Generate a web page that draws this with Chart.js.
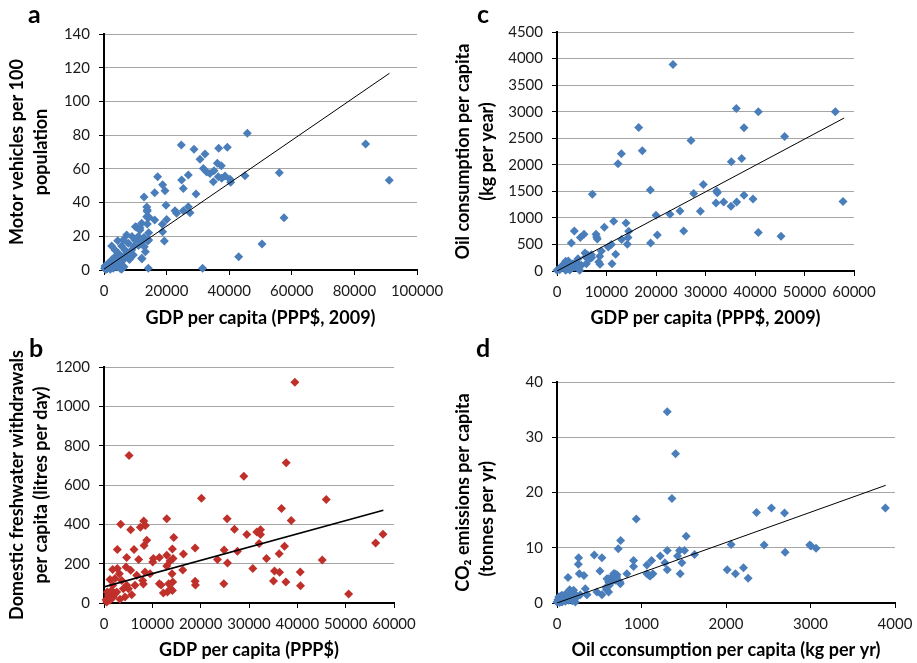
<!DOCTYPE html>
<html>
<head>
<meta charset="utf-8">
<script src="https://cdn.jsdelivr.net/npm/chart.js@4.4.1/dist/chart.umd.min.js"></script>
<style>
    body { margin: 0; background: #fff; width: 917px; height: 663px; position: relative; overflow: hidden; }
    canvas { position: absolute; }
</style>
</head>
<body>
<canvas id="chartA" width="460" height="330" style="left:0;top:0"></canvas>
<canvas id="chartC" width="467" height="330" style="left:450px;top:0"></canvas>
<canvas id="chartB" width="460" height="333" style="left:0;top:330px"></canvas>
<canvas id="chartD" width="467" height="333" style="left:450px;top:330px"></canvas>
<script>
// --- data ---

// a: GDP per capita (PPP$, 2009) vs motor vehicles per 100 population
const vehiclesVsGdp = [
    [45780, 81.1], [24700, 74.2], [28750, 71.6], [36640, 72.2], [39390, 72.8], [83580, 74.7],
    [30670, 65.7], [32270, 68.8], [36200, 63.3], [37480, 61.9], [31730, 60.2], [32800, 58.2],
    [33870, 57.2], [35140, 58.9], [36520, 55.3], [37600, 54.4], [38660, 55.7], [34930, 52.4],
    [40260, 53.8], [40480, 52], [45050, 55.9], [56010, 57.7], [91140, 53.2], [17130, 55.3],
    [18740, 50.6], [19490, 47], [16190, 45.8], [24810, 53.4], [25340, 48.4], [26930, 56.4],
    [29390, 45.1], [12790, 43.3], [13650, 37.4], [13750, 34.8], [19810, 38.4], [22680, 35.2],
    [23210, 33.6], [25340, 35.2], [26930, 37.5], [27480, 34], [57510, 31], [16190, 29.7],
    [20030, 30], [18640, 27.1], [18740, 22.7], [19280, 17.2], [14380, 31.3], [13840, 27.3],
    [12040, 27.7], [11500, 23.7], [14270, 22.1], [13840, 35.6], [13640, 31.6], [10020, 25.7],
    [11510, 25.1], [50480, 15.4], [43030, 7.9], [12150, 6.7], [14150, 1], [31500, 1],
    [12880, 13.8], [13950, 17.2], [13210, 10.9], [12040, 6.9],
    [2450, 14.2], [4370, 17.4], [6170, 17.8], [7780, 15.8], [5640, 14.2], [6710, 11.9],
    [4580, 9.9], [3510, 7.9], [2450, 5.9], [1380, 4], [320, 2.4], [850, 1], [2980, 1],
    [5110, 1], [4580, 4], [1920, 3], [8840, 11.9], [9380, 8.9], [8310, 6.9], [7240, 20.8],
    [9900, 17.8], [10960, 19.8], [10420, 25.3], [3510, 11.9], [5640, 7.9], [7240, 9.9],
    [4030, 5.9], [6170, 5.9], [200, 1], [3510, 3.6], [5640, 3], [8950, 19.8], [10450, 18.8],
    [12790, 19.4], [14280, 17.8], [8100, 6.3], [2000, 0.5], [3000, 2.2], [4200, 1.8],
    [1500, 1.5], [600, 0.3], [2700, 3.5], [6400, 2], [7000, 8.5], [9500, 14], [11000, 14.5],
    [12000, 16.5], [500, 2], [1000, 0.8], [5600, 0.5]
];
const vehiclesTrend = [[0, 0.5], [91200, 116.7]];
const gdpTicksA = [0, 20000, 40000, 60000, 80000, 100000];
const vehicleTicks = [0, 20, 40, 60, 80, 100, 120, 140];

// c: GDP per capita vs oil consumption per capita
const oilVsGdp = [
    [23430, 3890], [36230, 3061], [40670, 2998], [56230, 2998], [16500, 2703], [37780, 2696],
    [45990, 2533], [17240, 2263], [27070, 2457], [13000, 2206], [12320, 2017], [35220, 2055],
    [37310, 2118], [18850, 1527], [7140, 1446], [29560, 1628], [27610, 1458], [32260, 1508],
    [32390, 1471], [32120, 1282], [33670, 1301], [35150, 1219], [36300, 1301], [37780, 1427],
    [39600, 1358], [57780, 1307], [20000, 1050], [22830, 1068], [24850, 1131], [28960, 1125],
    [25590, 754], [40670, 723], [45250, 654], [20270, 679], [18920, 528], [13940, 905],
    [11450, 936], [9560, 823], [7880, 691], [8010, 641], [8150, 603], [5450, 691], [4710, 629],
    [3500, 754], [2890, 528], [14480, 748], [14340, 629], [14210, 503], [13060, 591],
    [10980, 497], [10370, 453], [11850, 314], [11110, 138], [8960, 377], [8620, 277],
    [8420, 170], [8690, 126], [6940, 308], [6600, 233], [5790, 264], [5660, 339], [5930, 138],
    [4920, 107], [4580, 13], [3910, 170], [3230, 138], [2560, 138], [1750, 182], [2290, 189],
    [1350, 75], [1750, 13], [2220, 44], [540, 25], [0, 13], [4240, 233], [3570, 75],
    [2900, 107], [1000, 100], [3000, 60], [2600, 20], [6200, 300], [7000, 250]
];
const oilTrend = [[0, 0], [58000, 2880]];
const gdpTicksC = [0, 10000, 20000, 30000, 40000, 50000, 60000];
const oilTicks = [0, 500, 1000, 1500, 2000, 2500, 3000, 3500, 4000, 4500];

// b: GDP per capita vs domestic freshwater withdrawals
const waterVsGdp = [
    [39490, 1122], [5180, 750], [37700, 713], [28930, 645], [20160, 533], [45980, 526],
    [36730, 480], [38730, 419], [12980, 429], [25480, 429], [3450, 400], [5520, 373],
    [7520, 385], [8220, 417], [8560, 394], [8840, 319], [8290, 292], [14430, 333],
    [26990, 375], [29550, 348], [31620, 361], [32380, 373], [32380, 348], [32100, 302],
    [57720, 350], [56200, 305], [2760, 272], [6210, 272], [4690, 231], [7180, 221],
    [10220, 226], [10080, 209], [11460, 231], [12980, 243], [14150, 275], [14290, 226],
    [13670, 214], [16430, 249], [18850, 280], [24850, 270], [25550, 204], [27610, 263],
    [23470, 221], [33620, 226], [30790, 176], [37350, 288], [36250, 251], [45150, 219],
    [12980, 188], [16290, 168], [14080, 149], [35280, 163], [36320, 156], [40600, 158],
    [18850, 110], [18920, 92], [24790, 98], [35070, 112], [37630, 107], [40660, 88],
    [50610, 46], [11460, 98], [11810, 92], [12290, 51], [13120, 56], [13390, 98],
    [14220, 107], [13810, 73], [14150, 64], [8010, 114], [8150, 97], [6770, 141],
    [8490, 158], [9530, 149], [4560, 183], [5520, 166], [6420, 90], [2760, 175],
    [1800, 170], [1240, 120], [2280, 124], [3180, 149], [3660, 115], [4690, 90],
    [4000, 73], [5040, 73], [5730, 42], [4350, 31], [3310, 19], [2280, 48], [1590, 64],
    [900, 39], [410, 17], [1240, 14], [1930, 31], [2620, 56], [690, 56], [1800, 90], [550, 5]
];
const waterTrend = [[0, 82], [57800, 472]];
const gdpTicksB = [0, 10000, 20000, 30000, 40000, 50000, 60000];
const waterTicks = [0, 200, 400, 600, 800, 1000, 1200];

// d: oil consumption per capita vs CO2 emissions per capita
const co2VsOil = [
    [1305, 34.6], [1403, 27], [1360, 18.9], [938, 15.2], [2361, 16.4], [2538, 17.2],
    [2692, 16.3], [3886, 17.2], [1529, 12.1], [753, 11.3], [725, 9.8], [2061, 10.6],
    [2451, 10.5], [2700, 9.2], [2991, 10.5], [3007, 10.3], [3066, 9.9], [1305, 9.5],
    [1450, 9.5], [1509, 9.5], [1628, 8.8], [1427, 8.5], [1222, 8.5], [1119, 7.7],
    [1277, 7.3], [1478, 7.3], [906, 7.7], [906, 6.6], [1064, 6.9], [1305, 6], [1458, 5.3],
    [2014, 6], [2112, 5.3], [2207, 6.4], [2262, 4.5], [256, 8.2], [252, 7], [441, 8.7],
    [532, 8.2], [130, 4.6], [264, 5.3], [319, 5], [508, 5.8], [827, 5.3], [670, 5.3],
    [650, 4.7], [709, 5.1], [591, 4.4], [611, 3.8], [690, 4.1], [749, 3.5], [1064, 5.3],
    [1104, 4.9], [1135, 5.3], [335, 2.6], [473, 2], [532, 1.5], [611, 2], [355, 1.5],
    [276, 1.5], [237, 1.1], [177, 2], [158, 1.4], [118, 1.1], [79, 0.8], [39, 0.5],
    [20, 1.1], [59, 1.4], [138, 0.5], [99, 0.3], [177, 0.8], [197, 2.3], [217, 0.2],
    [0, 0.2], [31, 0.1], [607, 4.4], [686, 5.3], [745, 3.8], [1091, 5], [350, 1.6],
    [586, 2.4], [666, 4.1], [705, 4.7], [620, 3.2], [580, 2.8], [200, 1.8], [150, 2.4],
    [100, 1.6], [180, 0.4], [60, 0.2], [10, 0.6], [40, 1.2]
];
const co2Trend = [[0, 0], [3890, 21.3]];
const oilTicksD = [0, 1000, 2000, 3000, 4000];
const co2Ticks = [0, 10, 20, 30, 40];

const BLUE = '#4a7ebb';
const RED = '#c0302b';
const GRID = '#a6a6a6';
const TICK_FONT = { family: 'Lato', size: 15, lineHeight: 1.2 };
const TITLE_FONT = { family: 'Lato', size: 18, weight: 'bold', lineHeight: 1.2 };
const YTITLE_FONT = { family: 'Lato', size: 18, weight: 'bold', lineHeight: 1.32 };

// draws the bold panel letter (a, b, c, d)
const panelLetter = {
    id: 'panelLetter',
    afterDraw(chart, args, opts) {
        const ctx = chart.ctx;
        ctx.save();
        ctx.font = 'bold 25px Lato';
        ctx.fillStyle = '#000';
        ctx.textBaseline = 'alphabetic';
        ctx.fillText(opts.text, opts.x, opts.y);
        ctx.restore();
    }
};

function toPoints(pairs) {
    return pairs.map(p => ({ x: p[0], y: p[1] }));
}

function buildPanel(id, cfg) {
    const canvas = document.getElementById(id);
    const W = canvas.width;
    const H = canvas.height;

    return new Chart(canvas, {
        type: 'scatter',
        data: {
            datasets: [
                {
                    data: toPoints(cfg.trend),
                    showLine: true,
                    borderColor: '#000',
                    borderWidth: cfg.trendWidth,
                    pointRadius: 0
                },
                {
                    data: toPoints(cfg.points),
                    pointStyle: 'rectRot',
                    pointRadius: 4.5,
                    backgroundColor: cfg.color,
                    borderColor: cfg.color,
                    borderWidth: 0,
                    clip: false
                }
            ]
        },
        options: {
            responsive: false,
            animation: false,
            events: [],
            layout: { padding: { left: 0, top: cfg.area.top, right: W - cfg.area.right, bottom: 0 } },
            plugins: {
                legend: { display: false },
                tooltip: { enabled: false },
                panelLetter: cfg.letter
            },
            scales: {
                x: {
                    type: 'linear',
                    position: 'bottom',
                    min: cfg.xTicks[0],
                    max: cfg.xTicks[cfg.xTicks.length - 1],
                    ticks: {
                        stepSize: cfg.xTicks[1] - cfg.xTicks[0],
                        callback: v => String(v),
                        font: TICK_FONT,
                        color: '#1a1a1a',
                        padding: 7,
                        maxRotation: 0
                    },
                    grid: { drawOnChartArea: false, color: '#000', tickLength: 5 },
                    border: { color: '#000', width: 2 },
                    title: {
                        display: true,
                        text: cfg.xTitle,
                        font: TITLE_FONT,
                        color: '#000',
                        padding: { top: 0, bottom: cfg.xTitlePad }
                    },
                    afterFit: s => {
                        s.height = H - cfg.area.bottom;
                        s.paddingLeft = 0;
                        s.paddingRight = 0;
                    }
                },
                y: {
                    type: 'linear',
                    min: cfg.yTicks[0],
                    max: cfg.yTicks[cfg.yTicks.length - 1],
                    ticks: {
                        stepSize: cfg.yTicks[1] - cfg.yTicks[0],
                        callback: v => String(v),
                        font: TICK_FONT,
                        color: '#1a1a1a',
                        padding: 9
                    },
                    grid: {
                        color: c => (c.tick && c.tick.value === 0) ? 'rgba(0,0,0,0)' : GRID,
                        tickColor: '#000',
                        tickLength: 5
                    },
                    border: { color: '#000', width: 2 },
                    title: {
                        display: true,
                        text: cfg.yTitle,
                        font: YTITLE_FONT,
                        color: '#000',
                        padding: { top: cfg.yTitlePad, bottom: 0 }
                    },
                    afterFit: s => {
                        s.width = cfg.area.left;
                        s.paddingTop = 0;
                        s.paddingBottom = 0;
                    }
                }
            }
        },
        plugins: [panelLetter]
    });
}

window.onload = () => {
    buildPanel('chartA', {
        points: vehiclesVsGdp, trend: vehiclesTrend, trendWidth: 1, color: BLUE,
        xTicks: gdpTicksA, yTicks: vehicleTicks,
        area: { left: 104, right: 417, top: 34, bottom: 270 },
        xTitle: 'GDP per capita (PPP$, 2009)', xTitlePad: 1.2,
        yTitle: ['Motor vehicles per 100', 'population'], yTitlePad: 5.6,
        letter: { text: 'a', x: 28, y: 23 }
    });

    buildPanel('chartC', {
        points: oilVsGdp, trend: oilTrend, trendWidth: 1, color: BLUE,
        xTicks: gdpTicksC, yTicks: oilTicks,
        area: { left: 107, right: 404, top: 32, bottom: 271 },
        xTitle: 'GDP per capita (PPP$, 2009)', xTitlePad: 1.2,
        yTitle: ['Oil consumption per capita', '(kg per year)'], yTitlePad: 1.1,
        letter: { text: 'c', x: 27, y: 23 }
    });

    buildPanel('chartB', {
        points: waterVsGdp, trend: waterTrend, trendWidth: 1.6, color: RED,
        xTicks: gdpTicksB, yTicks: waterTicks,
        area: { left: 104, right: 394, top: 37, bottom: 273 },
        xTitle: 'GDP per capita (PPP$)', xTitlePad: 2.2,
        yTitle: ['Domestic freshwater withdrawals', 'per capita (litres per day)'], yTitlePad: 5.6,
        letter: { text: 'b', x: 29, y: 27 }
    });

    buildPanel('chartD', {
        points: co2VsOil, trend: co2Trend, trendWidth: 1, color: BLUE,
        xTicks: oilTicksD, yTicks: co2Ticks,
        area: { left: 107, right: 445, top: 52, bottom: 273 },
        xTitle: 'Oil cconsumption per capita (kg per yr)', xTitlePad: 2.2,
        yTitle: ['CO\u2082 emissions per capita', '(tonnes per yr)            '], yTitlePad: 1.1,
        letter: { text: 'd', x: 26, y: 27 }
    });
};
</script>
</body>
</html>
